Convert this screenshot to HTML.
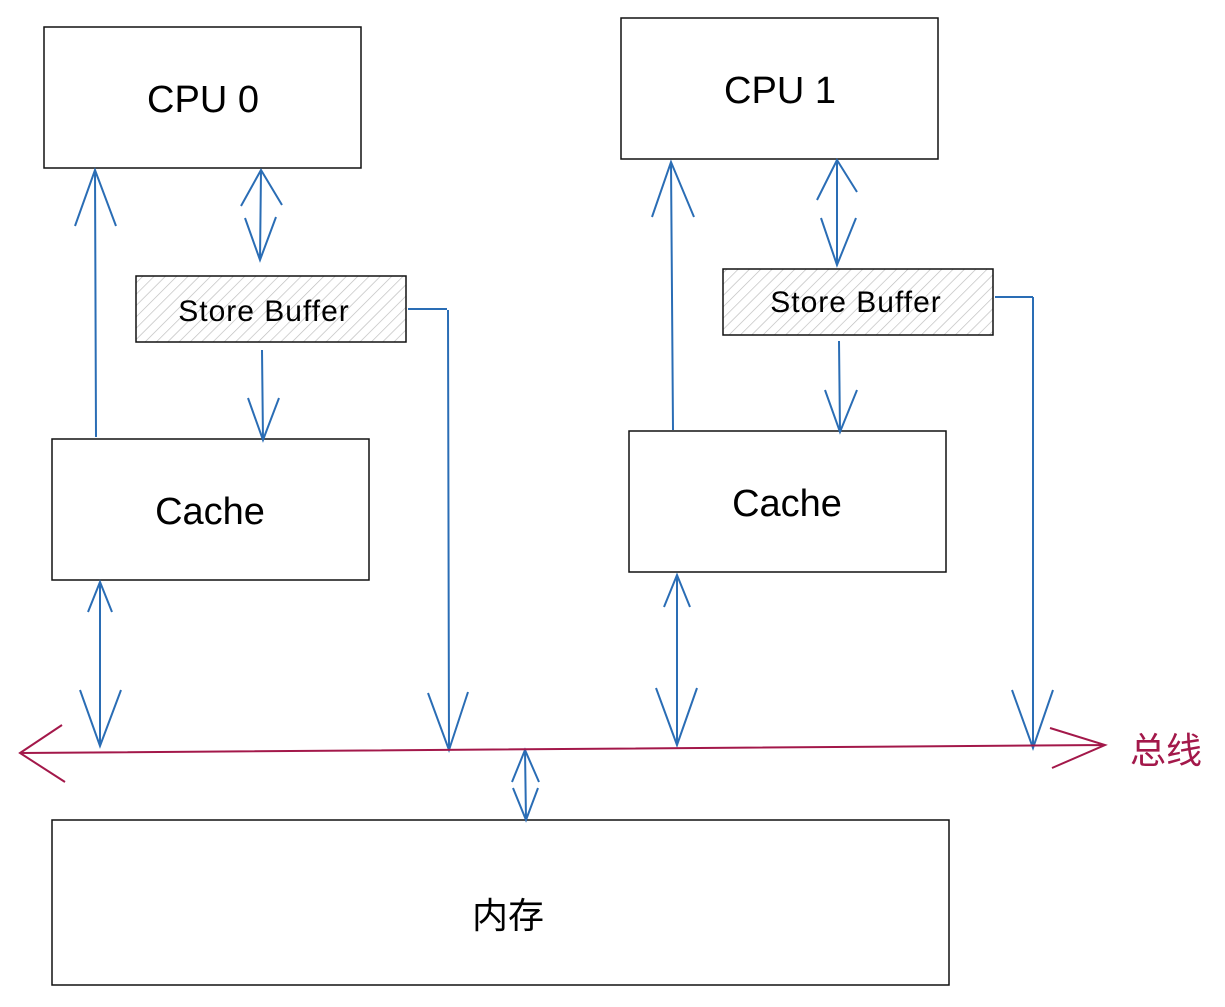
<!DOCTYPE html>
<html><head><meta charset="utf-8"><style>
html,body{margin:0;padding:0;background:#fff;}
svg{display:block;}
text{font-family:"Liberation Sans","Noto Sans CJK SC",sans-serif;}
</style></head><body>
<svg width="1225" height="1007" viewBox="0 0 1225 1007" xmlns="http://www.w3.org/2000/svg">
<defs>
<pattern id="h" width="8" height="8" patternUnits="userSpaceOnUse" patternTransform="rotate(45)">
<rect width="8" height="8" fill="#fff"/><line x1="0" y1="0" x2="0" y2="8" stroke="#bbb" stroke-width="1.3"/>
</pattern>
</defs>
<g fill="#fff" stroke="#111" stroke-width="1.5">
<rect x="44" y="27" width="317" height="141"/>
<rect x="621" y="18" width="317" height="141"/>
<rect x="52" y="439" width="317" height="141"/>
<rect x="629" y="431" width="317" height="141"/>
<rect x="52" y="820" width="897" height="165"/>
<rect x="136" y="276" width="270" height="66" fill="url(#h)"/>
<rect x="723" y="269" width="270" height="66" fill="url(#h)"/>
</g>
<g font-size="38" fill="#000" text-anchor="middle">
<text x="203" y="112">CPU 0</text>
<text x="780" y="103">CPU 1</text>
<text x="210" y="524">Cache</text>
<text x="787" y="516">Cache</text>
<text x="508" y="928" font-size="36">内存</text>
</g>
<g font-size="30" fill="#000" text-anchor="middle" letter-spacing="1">
<text x="264" y="321">Store Buffer</text>
<text x="856" y="312">Store Buffer</text>
</g>
<g stroke="#2a6db5" stroke-width="2" fill="none">
<path d="M96,437 L95,170 M75,226 L95,170 L116,226"/>
<path d="M261,170 L260,260 M241,206 L261,170 L282,205 M245,218 L260,260 L276,217"/>
<path d="M262,350 L263,440 M248,398 L263,440 L279,398"/>
<path d="M408,309 L447,309 M448,310 L449,750 M428,693 L449,750 L468,692"/>
<path d="M100,582 L100,746 M88,612 L100,582 L112,612 M80,690 L100,746 L121,690"/>
<path d="M525,750 L526,820 M512,782 L525,750 L539,782 M513,788 L526,820 L538,788"/>
<path d="M673,430 L671,162 M652,217 L671,162 L694,217"/>
<path d="M837,160 L837,265 M817,200 L837,160 L857,192 M821,218 L837,265 L856,218"/>
<path d="M839,341 L840,432 M825,390 L840,432 L857,390"/>
<path d="M995,297 L1033,297 M1033,297 L1033,748 M1012,690 L1033,748 L1053,690"/>
<path d="M677,575 L677,745 M664,607 L677,575 L690,607 M656,688 L677,745 L697,688"/>
</g>
<g stroke="#a3184a" stroke-width="2" fill="none">
<path d="M20,753 L1105,745 M62,725 L20,753 L65,782 M1050,728 L1105,745 L1052,768"/>
</g>
<text x="1166" y="763" font-size="36" fill="#a3184a" text-anchor="middle">总线</text>
</svg>
</body></html>
